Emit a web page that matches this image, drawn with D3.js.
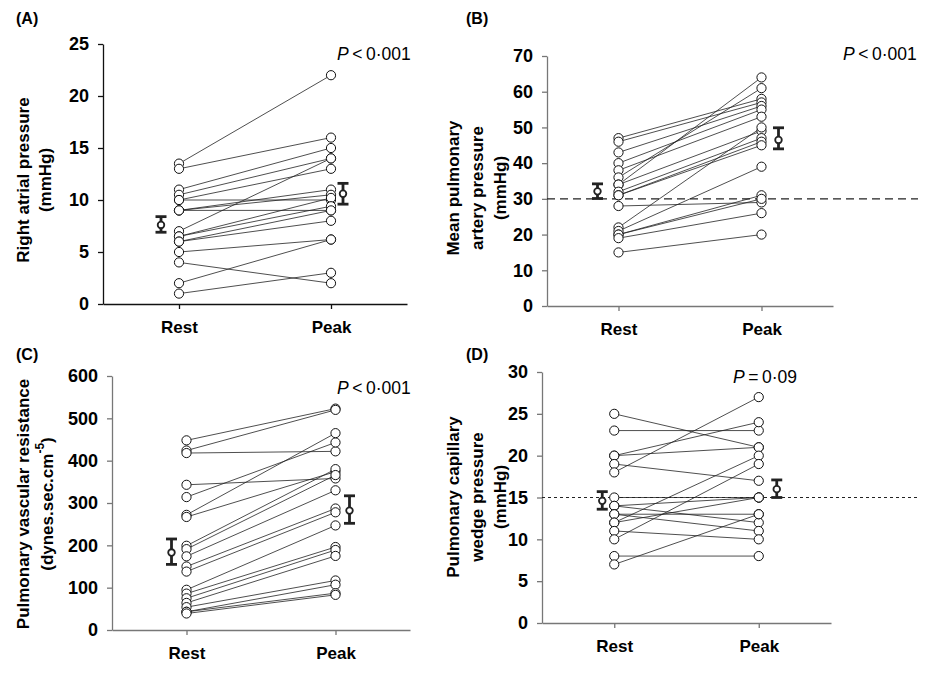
<!DOCTYPE html>
<html><head><meta charset="utf-8">
<script src="https://cdn.jsdelivr.net/npm/d3@7"></script>
<style>
body{margin:0;background:#fff;}
svg{display:block;font-family:"Liberation Sans",Arial,Helvetica,sans-serif;}
</style></head>
<body><svg id="c" width="925" height="674"></svg>
<script>
// ---------- DATA ----------
const groups = ["Rest", "Peak"];

// (A) Right atrial pressure (mmHg)
const raRest = [13.5, 13, 11, 10.5, 10, 10, 9, 9, 9, 7, 6.5, 6.5, 6, 6, 5, 4, 2, 1];
const raPeak = [22, 16, 15, 14, 10, 13, 11, 9, 10.5, 14, 10.2, 9.4, 9, 8, 6.2, 2, 6.2, 3];
const raMean = [7.6, 10.6], raLow = [6.9, 9.6], raHigh = [8.4, 11.6];
const raTicks = [0, 5, 10, 15, 20, 25];

// (B) Mean pulmonary artery pressure (mmHg)
const mpaRest = [47, 46, 43, 40, 38, 36, 34, 34, 32, 31, 31, 28, 22, 21, 20, 20, 19, 15];
const mpaPeak = [58, 57, 56, 55, 53, 61, 64, 49, 47, 46, 45, 29, 50, 39, 31, 30, 26, 20];
const mpaMean = [32.1, 46.5], mpaLow = [30.1, 44], mpaHigh = [34.2, 49.9];
const mpaTicks = [0, 10, 20, 30, 40, 50, 60, 70];
const mpaRef = 30;

// (C) Pulmonary vascular resistance (dynes.sec.cm-5)
const pvrRest = [448, 424, 418, 343, 314, 272, 267, 199, 191, 174, 150, 138, 95, 86, 75, 64, 54, 43, 43, 39];
const pvrPeak = [523, 520, 422, 358, 443, 465, 374, 380, 366, 330, 287, 278, 247, 196, 189, 175, 117, 107, 87, 83];
const pvrMean = [183, 282], pvrLow = [155, 252], pvrHigh = [215, 317];
const pvrTicks = [0, 100, 200, 300, 400, 500, 600];

// (D) Pulmonary capillary wedge pressure (mmHg)
const pcwRest = [25, 23, 20, 20, 19, 18, 15, 14, 14, 13, 13, 12, 12, 11, 10, 8, 7];
const pcwPeak = [21, 23, 24, 21, 17, 27, 15, 15, 12, 13, 11, 20, 15, 10, 19, 8, 13];
const pcwMean = [14.6, 16.0], pcwLow = [13.6, 15.0], pcwHigh = [15.7, 17.1];
const pcwTicks = [0, 5, 10, 15, 20, 25, 30];
const pcwRef = 15;

// ---------- DRAW ----------
const svg = d3.select("#c");

function panel(o) {
  const g = svg.append("g");
  const y = d3.scaleLinear().domain(o.domain).range([o.yBottom, o.yTop]);
  const x = d3.scalePoint().domain(groups).range([o.x0, o.x1]).padding(0.5);

  // y axis
  const ya = g.append("g").attr("transform", `translate(${o.x0},0)`)
    .call(d3.axisLeft(y).tickValues(o.ticks).tickSize(5).tickPadding(9).tickSizeOuter(0));
  ya.select(".domain").attr("stroke", o.axisColor).attr("stroke-width", 1.3);
  ya.selectAll(".tick line").attr("stroke", o.axisColor).attr("stroke-width", 1.3);
  ya.selectAll("text").attr("font-size", 18).attr("font-weight", "bold").attr("fill", "#000");

  // x axis
  const xa = g.append("g").attr("transform", `translate(0,${o.yBottom})`)
    .call(d3.axisBottom(x).tickSize(5).tickPadding(12).tickSizeOuter(0));
  xa.select(".domain").attr("stroke", o.axisColor).attr("stroke-width", 1.3);
  xa.selectAll(".tick line").attr("stroke", o.axisColor).attr("stroke-width", 1.3);
  xa.selectAll("text").attr("font-size", 17).attr("font-weight", "bold").attr("fill", "#000");

  // reference line
  if (o.ref !== undefined) {
    g.append("line").attr("x1", o.x0).attr("x2", 918)
      .attr("y1", y(o.ref)).attr("y2", y(o.ref))
      .attr("stroke", "#222").attr("stroke-width", 1.2)
      .attr("stroke-dasharray", o.dash);
  }

  // paired lines
  const pairs = o.rest.map((r, i) => [r, o.peak[i]]);
  g.append("g").selectAll("line").data(pairs).join("line")
    .attr("x1", x("Rest")).attr("x2", x("Peak"))
    .attr("y1", d => y(d[0])).attr("y2", d => y(d[1]))
    .attr("stroke", "#222").attr("stroke-width", 0.8);
  // circles
  const pts = [];
  pairs.forEach(d => { pts.push(["Rest", d[0]]); pts.push(["Peak", d[1]]); });
  g.append("g").selectAll("circle").data(pts).join("circle")
    .attr("cx", d => x(d[0])).attr("cy", d => y(d[1])).attr("r", 4.6)
    .attr("fill", "#fff").attr("stroke", "#111").attr("stroke-width", 1);

  // mean ± SEM
  groups.forEach((k, i) => {
    const cx = x(k) + o.meanOff[i];
    const mg = g.append("g");
    mg.append("line").attr("x1", cx).attr("x2", cx).attr("y1", y(o.low[i])).attr("y2", y(o.high[i]))
      .attr("stroke", "#222").attr("stroke-width", 2.8);
    [o.low[i], o.high[i]].forEach(v => mg.append("line")
      .attr("x1", cx - 5.5).attr("x2", cx + 5.5).attr("y1", y(v)).attr("y2", y(v))
      .attr("stroke", "#222").attr("stroke-width", 2.8));
    mg.append("circle").attr("cx", cx).attr("cy", y(o.mean[i])).attr("r", 3.3)
      .attr("fill", "#fff").attr("stroke", "#222").attr("stroke-width", 1.8);
  });

  // y title
  o.title.forEach((t, i) => {
    const tt = g.append("text")
      .attr("transform", `translate(${o.titleX[i]},${o.titleY}) rotate(-90)`)
      .attr("text-anchor", "middle").attr("dominant-baseline", "central")
      .attr("font-size", 17).attr("font-weight", "bold");
    if (typeof t === "object") {
      tt.append("tspan").text(t.text);
      tt.append("tspan").attr("dy", -7).attr("font-size", 12).text(t.sup);
      tt.append("tspan").attr("dy", 7).text(t.after);
    } else tt.text(t);
  });

  // panel label
  g.append("text").attr("x", o.labX).attr("y", o.labY).attr("font-size", 16)
    .attr("font-weight", "bold").text(o.label);

  // P value
  const p = g.append("text").attr("x", o.pX).attr("y", o.pY).attr("font-size", 17.5);
  p.append("tspan").attr("font-style", "italic").text("P");
  p.append("tspan").text(o.pText);
}

panel({label: "(A)", labX: 16, labY: 24, rest: raRest, peak: raPeak, mean: raMean, low: raLow, high: raHigh,
  domain: [0, 25], ticks: raTicks, x0: 103, x1: 407, yTop: 44, yBottom: 304, meanOff: [-18, 12],
  axisColor: "#111", title: ["Right atrial pressure", "(mmHg)"], titleX: [23, 45], titleY: 180,
  pX: 337, pY: 60, pText: "\u2009<\u20090·001"});

panel({label: "(B)", labX: 466, labY: 24, rest: mpaRest, peak: mpaPeak, mean: mpaMean, low: mpaLow, high: mpaHigh,
  domain: [0, 70], ticks: mpaTicks, x0: 547, x1: 833, yTop: 56, yBottom: 306, meanOff: [-21, 17],
  axisColor: "#777", ref: mpaRef, dash: "8,5", title: ["Mean pulmonary", "artery pressure", "(mmHg)"], titleX: [453, 477, 500], titleY: 188,
  pX: 843, pY: 60, pText: "\u2009<\u20090·001"});

panel({label: "(C)", labX: 16, labY: 360, rest: pvrRest, peak: pvrPeak, mean: pvrMean, low: pvrLow, high: pvrHigh,
  domain: [0, 600], ticks: pvrTicks, x0: 112, x1: 410, yTop: 376, yBottom: 630, meanOff: [-15, 14],
  axisColor: "#777", title: ["Pulmonary vascular resistance", {text: "(dynes.sec.cm", sup: "-5", after: ")"}], titleX: [23, 47], titleY: 504,
  pX: 337, pY: 394, pText: "\u2009<\u20090·001"});

panel({label: "(D)", labX: 466, labY: 360, rest: pcwRest, peak: pcwPeak, mean: pcwMean, low: pcwLow, high: pcwHigh,
  domain: [0, 30], ticks: pcwTicks, x0: 542, x1: 831, yTop: 372, yBottom: 623, meanOff: [-12, 18],
  axisColor: "#777", ref: pcwRef, dash: "3,3", title: ["Pulmonary capillary", "wedge pressure", "(mmHg)"], titleX: [453, 477, 500], titleY: 497,
  pX: 733, pY: 383, pText: "\u2009=\u20090·09"});
</script>
</body></html>
